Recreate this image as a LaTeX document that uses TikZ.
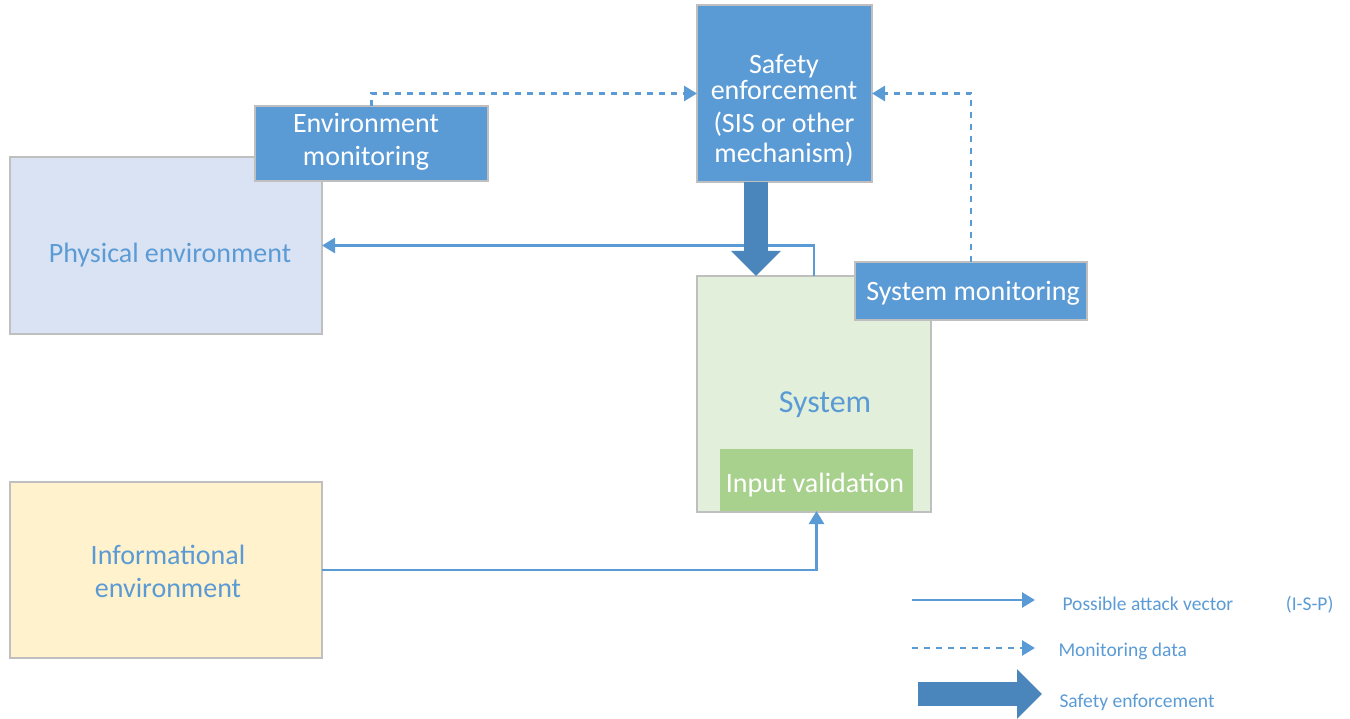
\documentclass[tikz,border=0pt]{standalone}
\usepackage{fontspec}
\setmainfont{Carlito}
\usetikzlibrary{arrows.meta}
\definecolor{mblue}{HTML}{5B9BD5}
\definecolor{dblue}{HTML}{4A86BC}
\definecolor{gedge}{HTML}{BFBFBF}
\definecolor{physfill}{HTML}{DAE3F3}
\definecolor{infofill}{HTML}{FFF2CC}
\definecolor{sysfill}{HTML}{E2EFDA}
\definecolor{valfill}{HTML}{A9D18E}
\tikzset{
  box/.style={draw=gedge, line width=1.3pt, inner sep=0pt, outer sep=0pt, anchor=north west},
  bluebox/.style={box, fill=mblue},
  big/.style={font=\fontsize{28}{33}\selectfont, align=center},
  legtext/.style={font=\fontsize{19.5}{23}\selectfont, text=mblue, anchor=west},
  attack/.style={draw=mblue, line width=2.8pt, -{Triangle[length=13pt,width=15pt]}},
  dotline/.style={draw=mblue, line width=2.8pt, dash pattern=on 6pt off 6pt, -{Triangle[length=13pt,width=15pt]}},
  bigarrow/.style={draw=dblue, line width=24pt, -{Triangle[length=25pt,width=48pt]}},
}
\begin{document}
\begin{tikzpicture}[x=1pt,y=-1pt]
\useasboundingbox (0,0) rectangle (1350,719);
% boxes
\node[box, fill=physfill, minimum width=312pt, minimum height=177pt] (phys) at (10,157) {};
\node[big, text=mblue] (physt) at (170,255) {Physical environment};
\node[bluebox, minimum width=233pt, minimum height=75pt] (envmon) at (255,106) {};
\node[big, text=white] (envmont) at (366,142) {Environment\\monitoring};
\node[bluebox, minimum width=175pt, minimum height=177pt] (safety) at (697,5) {};
\node[big, text=white] (safetyt) at (784,110) {Safety\\[-7pt]enforcement\\(SIS or other\\[-3pt]mechanism)};
\node[box, fill=sysfill, minimum width=234pt, minimum height=236pt] (system) at (697,276) {};
\node[font=\fontsize{32}{36}\selectfont, text=mblue] (systemt) at (825,405) {System};
\node[box, draw=none, fill=valfill, minimum width=193pt, minimum height=62pt] (inval) at (720,449) {};
\node[big, text=white] (invalt) at (815,485) {Input validation};
\node[bluebox, minimum width=232pt, minimum height=58pt] (sysmon) at (855,262) {};
\node[big, text=white] (sysmont) at (973,293) {System monitoring};
\node[box, fill=infofill, minimum width=312pt, minimum height=176pt] (info) at (10,482) {};
\node[big, text=mblue] (infot) at (168,571) {Informational\\environment};
% connectors
\draw[dotline] (envmon.north) |- (safety.west);
\draw[dotline] (sysmon.north) |- (safety.east);
\draw[attack] (system.north) |- (phys.east);
\draw[attack] (info.east) -| (inval.south);
\coordinate (bx) at (756,0);
\draw[bigarrow] (safety.south -| bx) -- (system.north -| bx);
% legend
\coordinate (l1a) at (912,600); \coordinate (l1b) at (1035,600);
\draw[attack] (l1a) -- (l1b);
\node[legtext] (l1t) at (1059,605) {Possible attack vector\hspace{2.7em}(I-S-P)};
\coordinate (l2a) at (912,648); \coordinate (l2b) at (1035,648);
\draw[dotline] (l2a) -- (l2b);
\node[legtext] (l2t) at (1055,651) {Monitoring data};
\coordinate (l3a) at (918,694); \coordinate (l3b) at (1042,694);
\draw[bigarrow] (l3a) -- (l3b);
\node[legtext] (l3t) at (1056,702) {Safety enforcement};
\end{tikzpicture}
\end{document}
